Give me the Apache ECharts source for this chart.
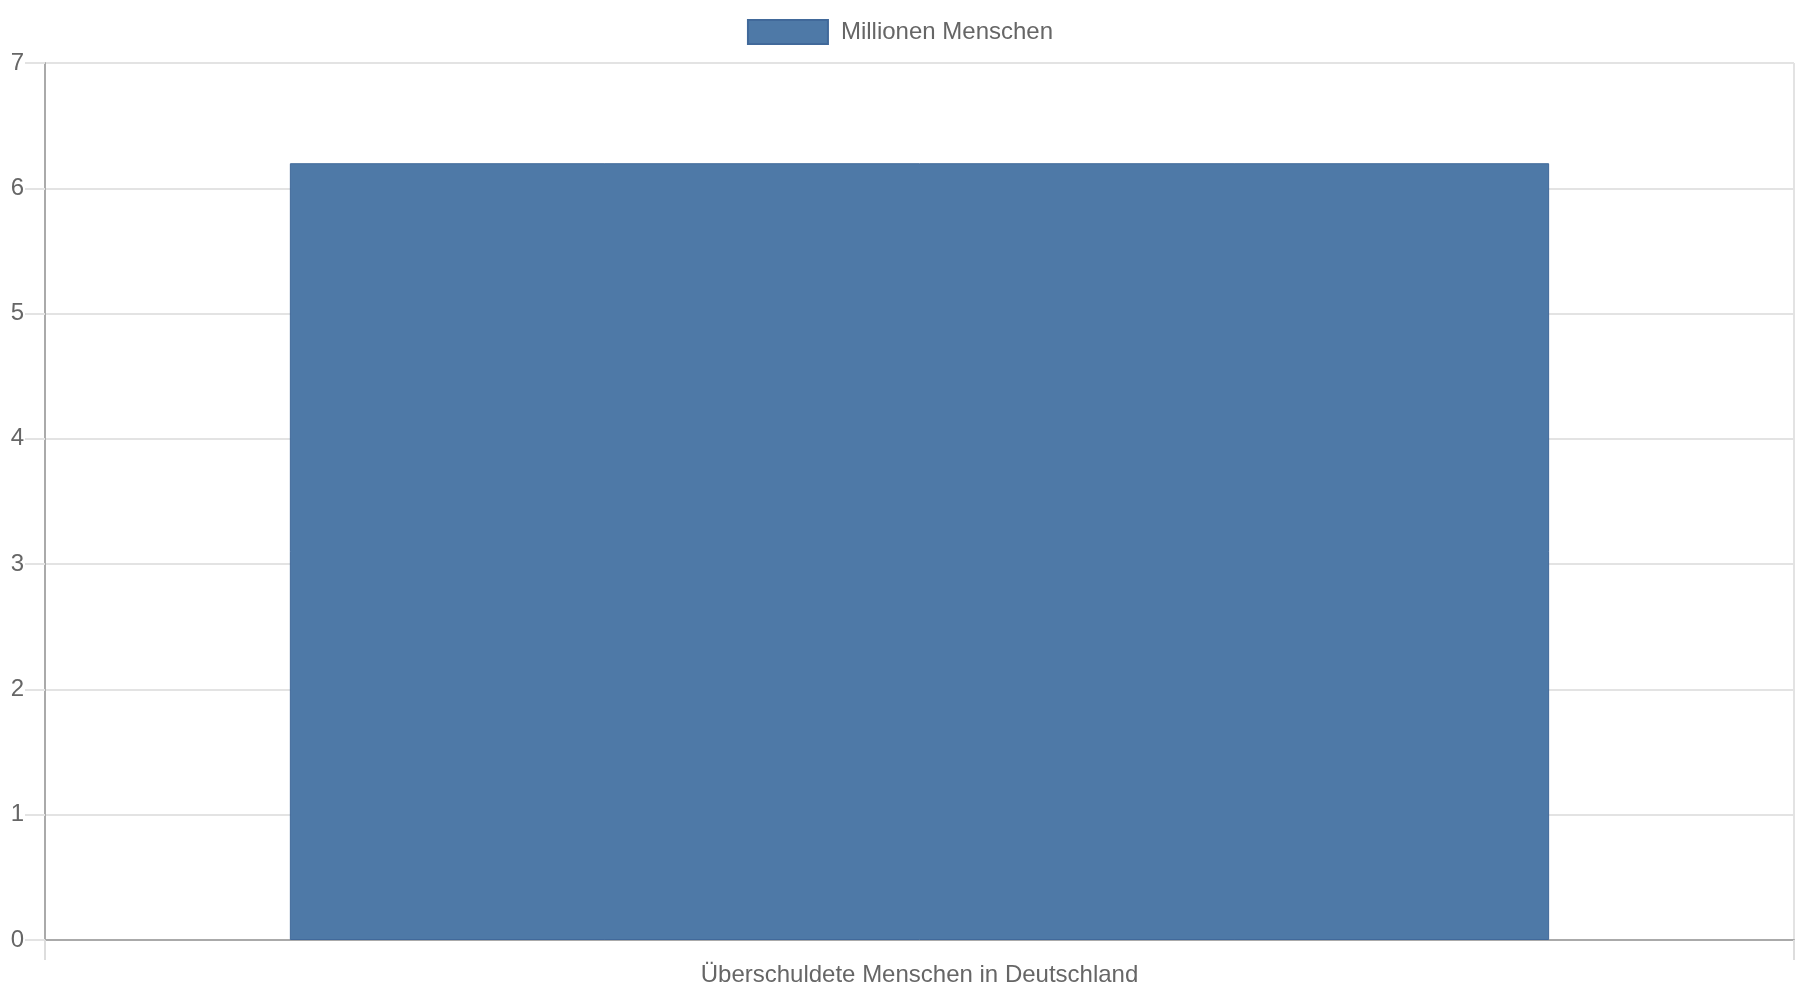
<!DOCTYPE html>
<html>
<head>
<meta charset="utf-8">
<script src="https://cdn.jsdelivr.net/npm/echarts@6/dist/echarts.min.js"></script>
<style>
html,body{margin:0;padding:0;background:#fff;}
#chart{width:1800px;height:1000px;}
</style>
</head>
<body>
<div id="chart"></div>
<script>
const categories = ["Überschuldete Menschen in Deutschland"];
const seriesName = "Millionen Menschen";
const values = [6.2];
const yTicks = [0, 1, 2, 3, 4, 5, 6, 7];

const font = '"Liberation Sans", Arial, sans-serif';
const chart = echarts.init(document.getElementById('chart'));
chart.setOption({
  animation: false,
  backgroundColor: '#fff',
  textStyle: { fontFamily: font },
  legend: {
    top: 14,
    left: 'center',
    itemWidth: 80,
    itemHeight: 24,
    icon: 'rect',
    textStyle: { fontSize: 24, color: '#666', fontFamily: font, padding: [0, 0, 0, 8] },
    data: [seriesName]
  },
  grid: { left: 45, right: 6, top: 63, bottom: 60, containLabel: false },
  xAxis: {
    type: 'category',
    data: categories,
    axisLine: { show: true, lineStyle: { color: '#aaa', width: 2 } },
    axisTick: { show: true, length: 20, lineStyle: { color: '#ddd', width: 2 } },
    splitLine: { show: true, lineStyle: { color: '#e3e3e3', width: 2 } },
    axisLabel: { fontSize: 24, color: '#666', fontFamily: font, margin: 23 }
  },
  yAxis: {
    type: 'value',
    min: yTicks[0],
    max: yTicks[yTicks.length - 1],
    interval: 1,
    axisLine: { show: true, lineStyle: { color: '#aaa', width: 2 } },
    axisTick: { show: true, length: 20, lineStyle: { color: '#e3e3e3', width: 2 } },
    splitLine: { show: true, lineStyle: { color: '#e3e3e3', width: 2 } },
    axisLabel: { fontSize: 24, color: '#666', fontFamily: font, margin: 21 }
  },
  series: [{
    name: seriesName,
    type: 'bar',
    data: values,
    barWidth: '72%',
    itemStyle: { color: '#4e79a7', borderColor: '#41699a', borderWidth: 1 }
  }]
});
</script>
</body>
</html>
